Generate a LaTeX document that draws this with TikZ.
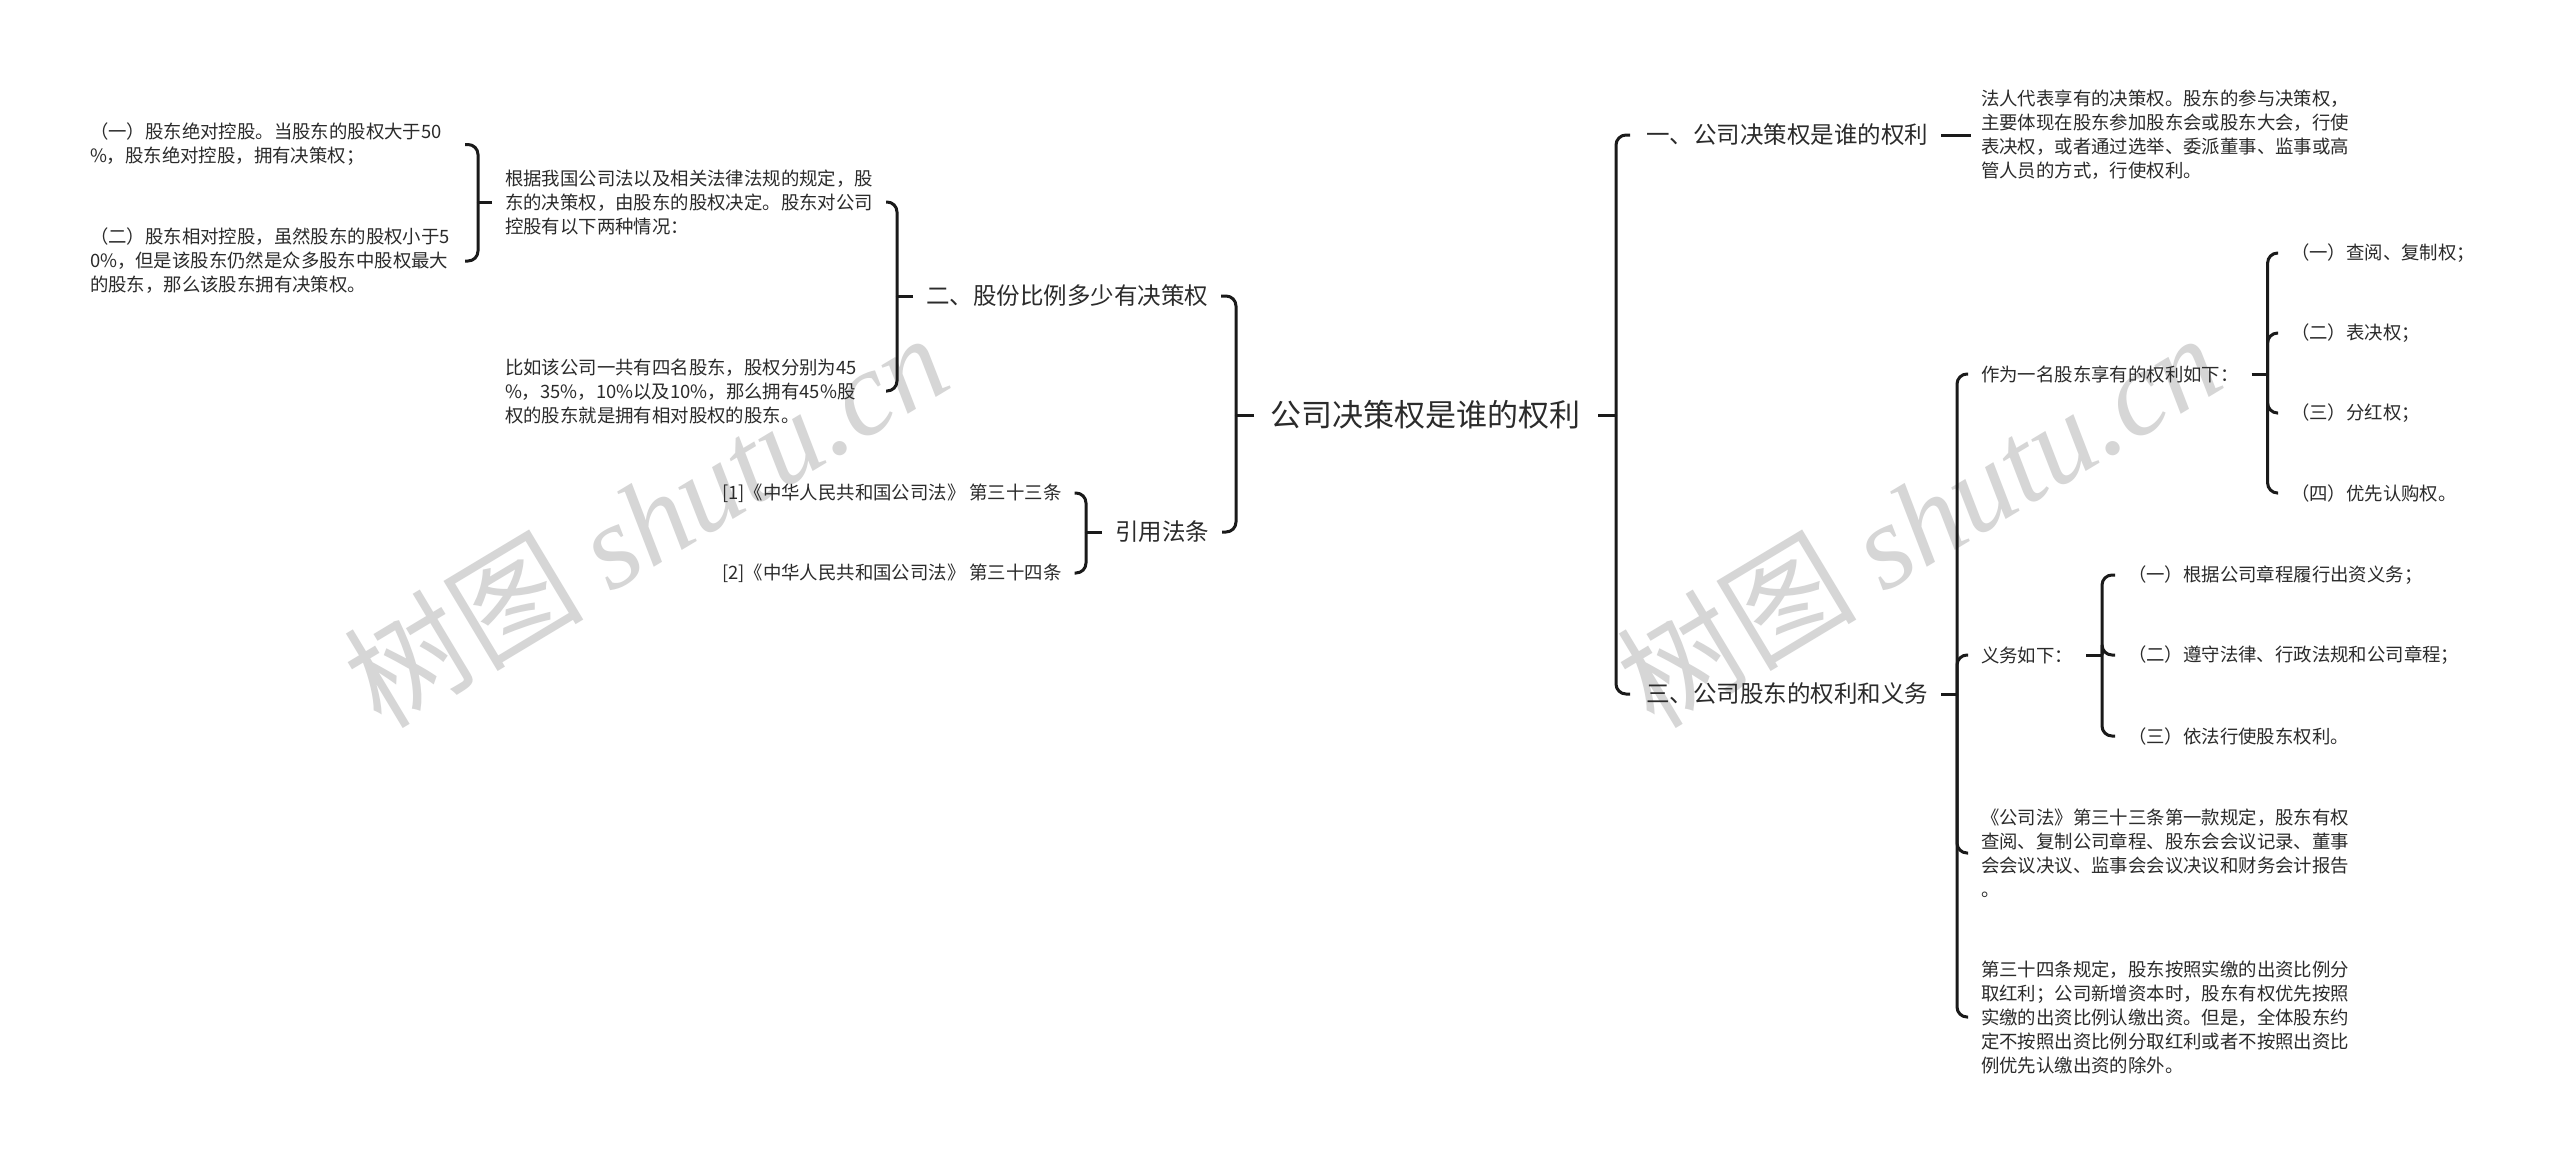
\documentclass[tikz,border=0pt]{standalone}
\usepackage{fontspec}
\setmainfont{Noto Sans CJK SC}
\newfontfamily\wmlatin{Liberation Serif}
\definecolor{textc}{HTML}{2B2B2B}
\definecolor{linec}{HTML}{1A1A1A}
\definecolor{wmc}{RGB}{214,214,214}
\begin{document}
\begin{tikzpicture}[x=1pt,y=-1pt,
  txt/.style={inner sep=0pt, outer sep=0pt, text=textc, font=\fontsize{18.4}{24}\selectfont, align=left, anchor=west},
  para/.style={txt, text width=372pt},
  lvl/.style={inner sep=0pt, outer sep=0pt, text=textc, font=\fontsize{23.5}{28}\selectfont, anchor=west},
  rootn/.style={inner sep=0pt, outer sep=0pt, text=textc, font=\fontsize{31}{36}\selectfont},
  link/.style={draw=linec, line width=3pt, rounded corners=10pt},
  stubl/.style={draw=linec, line width=3pt},
  wm/.style={text=wmc, rotate=31, inner sep=0pt, font=\fontsize{120}{120}\selectfont}
]
\useasboundingbox (0,0) rectangle (2560,1163);
\fill[white] (0,0) rectangle (2560,1163);

% watermarks
\node[wm] (wm1) at (645,519) {树图 {\wmlatin\itshape shutu.cn}};
\node[wm] (wm2) at (1918,519) {树图 {\wmlatin\itshape shutu.cn}};

% root
\node[rootn] (root) at (1425,415) {公司决策权是谁的权利};

% left side
\node[para, text width=362pt] (a1) at (90,144.5) {（一）股东绝对控股。当股东的股权大于50\\\%，股东绝对控股，拥有决策权；};
\node[para, text width=362pt] (a2) at (90,261) {（二）股东相对控股，虽然股东的股权小于5\\0\%，但是该股东仍然是众多股东中股权最大\\的股东，那么该股东拥有决策权。};
\node[para, text width=368pt] (b1) at (505,202) {根据我国公司法以及相关法律法规的规定，股\\东的决策权，由股东的股权决定。股东对公司\\控股有以下两种情况：};
\node[para, text width=368pt] (b2) at (505,391) {比如该公司一共有四名股东，股权分别为45\\\%，35\%，10\%以及10\%，那么拥有45\%股\\权的股东就是拥有相对股权的股东。};
\node[lvl] (two) at (926,296) {二、股份比例多少有决策权};
\node[txt] (r1) at (722,493) {{[1]}《中华人民共和国公司法》 第三十三条};
\node[txt] (r2) at (722,573) {{[2]}《中华人民共和国公司法》 第三十四条};
\node[lvl] (yin) at (1115,532) {引用法条};

% right side
\node[lvl] (one) at (1646,135) {一、公司决策权是谁的权利};
\node[para] (p1) at (1981,135) {法人代表享有的决策权。股东的参与决策权，\\主要体现在股东参加股东会或股东大会，行使\\表决权，或者通过选举、委派董事、监事或高\\管人员的方式，行使权利。};
\node[lvl] (three) at (1646,694) {三、公司股东的权利和义务};
\node[txt] (rights) at (1981,374) {作为一名股东享有的权利如下：};
\node[txt] (ri1) at (2291,253) {（一）查阅、复制权；};
\node[txt] (ri2) at (2291,333) {（二）表决权；};
\node[txt] (ri3) at (2291,413) {（三）分红权；};
\node[txt] (ri4) at (2291,493) {（四）优先认购权。};
\node[txt] (duty) at (1981,655) {义务如下：};
\node[txt] (du1) at (2128,575) {（一）根据公司章程履行出资义务；};
\node[txt] (du2) at (2128,655) {（二）遵守法律、行政法规和公司章程；};
\node[txt] (du3) at (2128,736) {（三）依法行使股东权利。};
\node[para] (p2) at (1981,853) {《公司法》第三十三条第一款规定，股东有权\\查阅、复制公司章程、股东会会议记录、董事\\会会议决议、监事会会议决议和财务会计报告\\。};
\node[para] (p3) at (1981,1017) {第三十四条规定，股东按照实缴的出资比例分\\取红利；公司新增资本时，股东有权优先按照\\实缴的出资比例认缴出资。但是，全体股东约\\定不按照出资比例分取红利或者不按照出资比\\例优先认缴出资的除外。};

% ---- connectors, left side ----
\coordinate (sL) at ([xshift=-34pt]root.west);
\draw[stubl] ([xshift=-16pt]root.west) -- (sL);
\foreach \c in {two,yin} \draw[link] (sL) |- ([xshift=13pt]\c.east);

\coordinate (s2) at ([xshift=-29pt]two.west);
\draw[stubl] ([xshift=-13pt]two.west) -- (s2);
\foreach \c in {b1,b2} \draw[link] (s2) |- ([xshift=13pt]\c.east);

\coordinate (sb) at ([xshift=-27pt]b1.west);
\draw[stubl] ([xshift=-13pt]b1.west) -- (sb);
\foreach \c in {a1,a2} \draw[link] (sb) |- ([xshift=13pt]\c.east);

\coordinate (sy) at ([xshift=-29pt]yin.west);
\draw[stubl] ([xshift=-13pt]yin.west) -- (sy);
\foreach \c in {r1,r2} \draw[link] (sy) |- ([xshift=13pt]\c.east);

% ---- connectors, right side ----
\coordinate (sR) at ([xshift=36pt]root.east);
\draw[stubl] ([xshift=18pt]root.east) -- (sR);
\foreach \c in {one,three} \draw[link] (sR) |- ([xshift=-16pt]\c.west);

\draw[stubl] ([xshift=13pt]one.east) -- ([xshift=-10pt]p1.west);

\coordinate (s3) at ([xshift=29pt]three.east);
\draw[stubl] ([xshift=13pt]three.east) -- (s3);
\foreach \c in {rights,duty,p2,p3} \draw[link] (s3) |- ([xshift=-13pt]\c.west);

\coordinate (sr) at ([xshift=29pt]rights.east);
\draw[stubl] ([xshift=13pt]rights.east) -- (sr);
\foreach \c in {ri1,ri2,ri3,ri4} \draw[link] (sr) |- ([xshift=-13pt]\c.west);

\coordinate (sd) at ([xshift=29pt]duty.east);
\draw[stubl] ([xshift=13pt]duty.east) -- (sd);
\foreach \c in {du1,du2,du3} \draw[link] (sd) |- ([xshift=-13pt]\c.west);
\end{tikzpicture}
\end{document}
